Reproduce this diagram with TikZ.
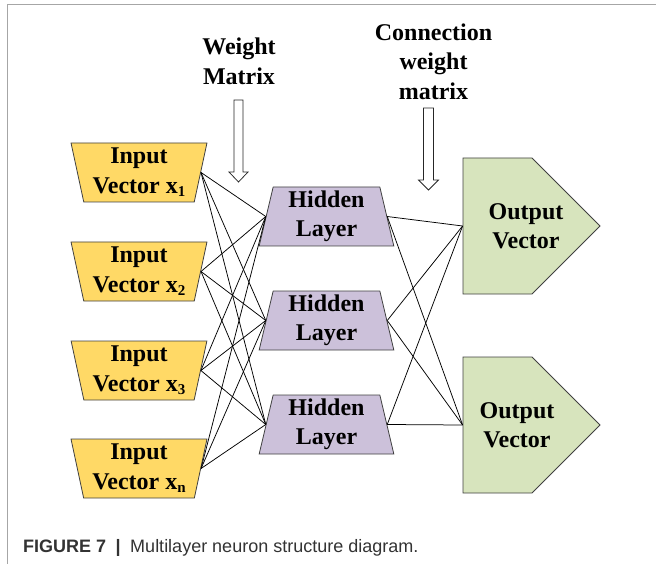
\documentclass[tikz,border=0pt]{standalone}
\usepackage{fontspec}
\usepackage{graphicx}
\setmainfont{Liberation Serif}
\newfontfamily\capfont{Liberation Sans}
\usetikzlibrary{shapes.geometric,shapes.symbols}

\definecolor{inputfill}{HTML}{FFD966}
\definecolor{hiddenfill}{HTML}{CCC1DA}
\definecolor{outputfill}{HTML}{D7E4BD}
\definecolor{edgegray}{HTML}{404040}
\definecolor{framegray}{HTML}{A6A6A6}
\definecolor{captext}{HTML}{333333}

% lowered small index for the vector names
\newcommand{\xsub}[1]{\raisebox{-0.3ex}{\fontsize{15}{15}\selectfont #1}}

\begin{document}
\begin{tikzpicture}[x=1pt,y=-1pt,
  lbl/.style={font=\fontsize{24}{29.5}\selectfont\bfseries, align=center},
  inbox/.style={trapezium, trapezium left angle=102.4, trapezium right angle=102.4,
    trapezium stretches=true, minimum width=136pt, minimum height=59pt,
    inner sep=0pt, draw=edgegray, fill=inputfill, line width=0.8pt, lbl},
  hidbox/.style={trapezium, trapezium left angle=79, trapezium right angle=79,
    trapezium stretches=true, minimum width=135pt, minimum height=59pt,
    inner sep=0pt, draw=edgegray, fill=hiddenfill, line width=0.8pt, lbl},
  outbox/.style={signal, signal to=east, signal from=nowhere, signal pointer angle=90,
    minimum width=137pt, minimum height=136pt, inner sep=0pt,
    draw=edgegray, fill=outputfill, line width=0.8pt},
  wire/.style={line width=0.75pt, black},
  hollow/.style={draw=black!85, fill=white, line width=0.75pt, line join=miter}]

\useasboundingbox (0,0) rectangle (656,564);

% page frame
\draw[framegray, line width=1.4pt] (7.5,564) -- (7.5,4.5) -- (656,4.5);

% input vectors
\node[inbox] (in1) at (139,172.5) {Input\\Vector x\xsub{1}};
\node[inbox] (in2) at (139,271.5) {Input\\Vector x\xsub{2}};
\node[inbox] (in3) at (139,370.5) {Input\\Vector x\xsub{3}};
\node[inbox] (in4) at (139,468.5) {Input\\Vector x\xsub{n}};

% hidden layers
\node[hidbox] (hid1) at (326.5,216.5) {Hidden\\Layer};
\node[hidbox] (hid2) at (326.5,320.5) {Hidden\\Layer};
\node[hidbox] (hid3) at (326.5,424.5) {Hidden\\Layer};

% output vectors (the centre anchor sits in the flat body, left of the point)
\node[outbox] (out1) at (497.5,226) {};
\node[outbox] (out2) at (497.5,425) {};
\node[lbl] (otxt1) at (526,226) {Output\\Vector};
\node[lbl] (otxt2) at (517,425) {Output\\Vector};

% full connections
\foreach \i in {1,...,4}
  \foreach \j in {1,2,3}
    \draw[wire] (in\i.east) -- (hid\j.west);
\foreach \j in {1,2,3}
  \foreach \k in {1,2}
    \draw[wire] (hid\j.east) -- (out\k.west);

% matrix labels and hollow arrows
\node[lbl] (wlab) at (239,61.5) {Weight\\Matrix};
\node[lbl] (clab) at (433.5,61.75) {Connection\\weight\\matrix};
\draw[hollow] (234,100) -- (243,100) -- (243,172) -- (248,172) -- (238.5,182)
  -- (229,172) -- (234,172) -- cycle;
\draw[hollow] (423.5,108) -- (433.5,108) -- (433.5,180) -- (438.5,180) -- (428.5,190)
  -- (418.5,180) -- (423.5,180) -- cycle;

% caption
\node[anchor=base west, inner sep=0pt, text=captext,
  font=\capfont\fontsize{18}{18}\selectfont] (cap) at (23,552)
  {\textbf{FIGURE 7}\hspace{9.5pt}\textbf{|}\hspace{9.5pt}Multilayer neuron structure diagram.};
\end{tikzpicture}
\end{document}
